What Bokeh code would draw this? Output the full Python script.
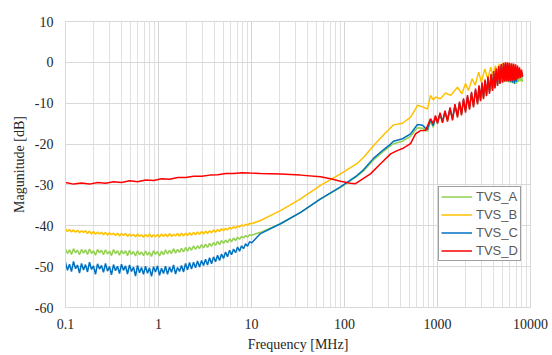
from bokeh.plotting import figure
from bokeh.models import FixedTicker, CustomJSTickFormatter, Range1d
from bokeh.embed import file_html
from bokeh.resources import INLINE

# ---------------- data ----------------
series_names = ["TVS_A", "TVS_B", "TVS_C", "TVS_D"]
x_tick_labels = ["0.1", "1", "10", "100", "1000", "10000"]
y_tick_labels = ["-60", "-50", "-40", "-30", "-20", "-10", "0", "10"]

# low-frequency noisy region (MHz)
f_low = [0.1, 0.1051, 0.1104, 0.1160, 0.1219, 0.1281, 0.1346, 0.1414, 0.1486, 0.1562,
         0.1641, 0.1724, 0.1812, 0.1904, 0.2000, 0.2102, 0.2209, 0.2321, 0.2438, 0.2562,
         0.2692, 0.2829, 0.2973, 0.3123, 0.3282, 0.3449, 0.3624, 0.3808, 0.4001, 0.4204,
         0.4418, 0.4642, 0.4878, 0.5126, 0.5386, 0.5660, 0.5947, 0.6249, 0.6567, 0.6900,
         0.7251, 0.7619, 0.8006, 0.8413, 0.8840, 0.9289, 0.9761, 1.026, 1.078, 1.132,
         1.190, 1.250, 1.314, 1.380, 1.451, 1.524, 1.602, 1.683, 1.768, 1.858,
         1.953, 2.052, 2.156, 2.265, 2.380, 2.501, 2.628, 2.762, 2.902, 3.049,
         3.204, 3.367, 3.538, 3.718, 3.907, 4.105, 4.314, 4.533, 4.763, 5.005,
         5.259, 5.526, 5.807, 6.102, 6.412, 6.738, 7.080, 7.440, 7.818, 8.215,
         8.632, 9.071, 9.531, 10.02]
f_low_D = [0.100, 0.122, 0.149, 0.181, 0.221, 0.270, 0.329, 0.401, 0.489, 0.596,
           0.727, 0.886, 1.08, 1.32, 1.61, 1.96, 2.39, 2.92, 3.56, 4.34,
           5.29, 6.45, 7.87, 9.59]

db_low_A = [-45.7, -46.8, -45.9, -47.0, -45.6, -46.6, -46.0, -47.1, -45.8, -46.7,
            -45.9, -47.0, -45.7, -46.8, -46.1, -47.2, -45.8, -46.6, -46.0, -47.1,
            -45.9, -46.9, -46.2, -47.3, -45.8, -46.8, -46.1, -47.2, -46.0, -46.9,
            -46.1, -47.3, -46.0, -47.0, -46.3, -47.4, -46.1, -47.1, -46.4, -47.3,
            -46.2, -47.2, -46.4, -47.5, -46.1, -47.0, -46.3, -47.4, -46.2, -47.1,
            -45.9, -46.9, -46.0, -46.8, -45.6, -46.7, -45.8, -46.5, -45.5, -46.4,
            -45.3, -46.2, -45.2, -46.0, -44.9, -45.8, -44.9, -45.6, -44.6, -45.4,
            -44.5, -45.3, -44.3, -45.0, -44.1, -44.8, -43.8, -44.6, -43.6, -44.3,
            -43.5, -44.1, -43.2, -43.9, -43.0, -43.6, -42.8, -43.3, -42.6, -43.0,
            -42.4, -42.8, -42.2, -42.3]
db_low_B = [-40.7, -41.4, -40.9, -41.5, -41.0, -41.6, -41.1, -41.7, -41.2, -41.6,
            -41.2, -41.9, -41.3, -42.0, -41.4, -42.1, -41.5, -42.0, -41.6, -42.2,
            -41.6, -42.3, -41.7, -42.2, -41.8, -42.4, -41.8, -42.5, -41.9, -42.4,
            -41.9, -42.6, -42.0, -42.5, -42.1, -42.7, -42.0, -42.6, -42.2, -42.8,
            -42.1, -42.7, -42.0, -42.8, -42.2, -42.7, -42.1, -42.8, -42.0, -42.6,
            -42.0, -42.7, -41.9, -42.6, -42.1, -42.5, -41.9, -42.6, -41.8, -42.5,
            -41.8, -42.4, -41.7, -42.3, -41.6, -42.2, -41.5, -42.1, -41.4, -42.0,
            -41.3, -41.9, -41.2, -41.7, -41.0, -41.6, -40.9, -41.4, -40.7, -41.2,
            -40.6, -41.0, -40.4, -40.8, -40.2, -40.6, -40.0, -40.3, -39.8, -40.1,
            -39.6, -39.9, -39.4, -39.5]
db_low_C = [-49.0, -50.9, -49.4, -51.2, -48.7, -50.5, -49.6, -51.6, -49.2, -50.8,
            -49.5, -51.3, -48.9, -50.7, -49.8, -51.9, -49.3, -50.6, -49.7, -51.4,
            -49.2, -51.1, -50.0, -52.0, -49.5, -51.0, -49.9, -51.7, -49.4, -50.9,
            -49.8, -51.8, -49.6, -51.2, -50.1, -52.3, -49.7, -51.5, -50.2, -51.9,
            -49.9, -51.6, -50.3, -52.4, -50.0, -51.3, -49.8, -52.1, -50.4, -51.7,
            -49.9, -51.9, -50.1, -51.4, -49.6, -51.8, -50.2, -51.2, -49.7, -51.3,
            -49.2, -50.8, -49.0, -50.6, -48.9, -50.3, -48.6, -50.1, -48.5, -49.7,
            -48.2, -49.6, -47.8, -49.3, -47.6, -48.8, -47.2, -48.5, -46.9, -48.0,
            -46.4, -47.6, -46.0, -47.1, -45.7, -46.6, -45.2, -46.2, -44.9, -45.6,
            -44.4, -45.0, -43.9, -44.2]
db_low_D = [-29.4, -29.8, -29.5, -29.8, -29.4, -29.6, -29.2, -29.4, -29.0, -29.2,
            -28.8, -28.9, -28.5, -28.6, -28.2, -28.2, -27.9, -27.9, -27.6, -27.5,
            -27.2, -27.2, -27.0, -27.1]

# mid-frequency region
f_mid_A = [12.5, 20.5, 33.7, 55.2, 90.6, 136, 160, 205, 262, 313, 336, 421, 513, 560, 610, 690, 740, 780, 841, 900]
db_mid_A = [-41.6, -39.5, -36.8, -33.5, -30.6, -27.9, -26.6, -23.9, -21.8, -20.4, -19.9, -19.3, -18.1, -17.0, -16.0, -16.1, -16.6, -16.8, -14.4, -15.9]
f_mid_B = [12.5, 20.5, 33.7, 55.2, 90.6, 136, 160, 205, 262, 313, 336, 421, 513, 560, 610, 690, 780, 841, 900]
db_mid_B = [-38.7, -36.3, -33.4, -30.1, -27.3, -24.8, -23.3, -20.4, -17.8, -16.0, -15.3, -14.9, -13.4, -12.0, -10.5, -10.9, -11.4, -8.1, -9.2]
f_mid_C = [12.5, 20.5, 33.7, 55.2, 90.6, 136, 160, 205, 262, 313, 336, 421, 513, 560, 610, 690, 740, 780, 841, 900]
db_mid_C = [-41.9, -39.5, -36.7, -33.4, -30.5, -27.7, -26.3, -23.5, -21.4, -20.0, -19.3, -18.7, -17.5, -16.3, -15.2, -15.4, -16.1, -16.5, -14.0, -15.5]
f_mid_D = [12.5, 20.5, 33.7, 55.2, 70.7, 90.6, 116, 131, 150, 190, 244, 313, 369, 421, 513, 580, 656, 743, 841, 900]
db_mid_D = [-27.2, -27.3, -27.6, -28.0, -28.5, -29.1, -29.6, -29.7, -28.8, -27.3, -24.8, -22.4, -21.6, -21.1, -19.9, -17.5, -16.7, -16.7, -13.8, -15.0]

# high-frequency resonance ripple
f_rip = [951, 1000, 1064, 1132, 1204, 1281, 1363, 1449, 1542, 1641,
         1724, 1812, 1904, 2000, 2102, 2209, 2321, 2438, 2563, 2692,
         2795, 2900, 3009, 3123, 3242, 3365, 3491, 3624, 3761, 3903,
         4020, 4152, 4278, 4418, 4551, 4699, 4841, 5000, 5126, 5254,
         5385, 5520, 5658, 5800, 5945, 6094, 6247, 6404, 6565, 6730,
         6899, 7072, 7249, 7430, 7614, 7805, 8000, 8204]
db_rip_A = [-13.6, -14.9, -12.9, -14.6, -12.4, -14.2, -11.6, -13.9, -10.9, -13.2,
            -10.3, -12.7, -9.5, -12.0, -8.7, -11.3, -7.9, -10.7, -7.1, -10.0,
            -6.3, -9.2, -5.6, -8.7, -4.9, -8.0, -4.2, -7.4, -3.5, -6.7,
            -2.8, -6.2, -2.2, -5.6, -1.6, -5.2, -1.1, -5.0, -0.8, -4.8,
            -0.7, -4.8, -0.7, -4.9, -0.8, -5.0, -1.0, -5.1, -1.3, -5.3,
            -1.7, -5.2, -2.0, -4.8, -2.6, -4.6, -3.2, -4.8]
db_rip_C = [-13.3, -14.6, -12.6, -14.4, -12.1, -14.0, -11.3, -13.7, -10.6, -13.0,
            -10.0, -12.5, -9.2, -11.8, -8.4, -11.1, -7.6, -10.5, -6.8, -9.8,
            -6.0, -9.0, -5.3, -8.5, -4.6, -7.8, -3.9, -7.2, -3.2, -6.5,
            -2.5, -6.0, -1.9, -5.4, -1.3, -5.0, -0.8, -4.8, -0.5, -4.6,
            -0.4, -4.6, -0.4, -4.7, -0.5, -4.8, -0.7, -5.0, -1.0, -5.2,
            -1.4, -4.8, -1.6, -3.8, -2.0, -3.0, -2.4, -3.6]
db_rip_D = [-13.0, -15.0, -12.3, -14.8, -11.8, -14.5, -11.0, -14.2, -10.2, -13.5,
            -9.6, -13.0, -8.8, -12.3, -8.0, -11.6, -7.2, -11.0, -6.4, -10.3,
            -5.6, -9.5, -4.9, -9.0, -4.2, -8.3, -3.5, -7.7, -2.8, -7.0,
            -2.1, -6.4, -1.5, -5.8, -0.9, -5.3, -0.4, -5.0, -0.1, -4.7,
            0.0, -4.6, 0.0, -4.6, -0.1, -4.6, -0.2, -4.5, -0.3, -4.4,
            -0.5, -4.2, -0.8, -4.0, -1.2, -3.8, -1.8, -3.5]
f_rip_B = [951, 1077, 1220, 1380, 1640, 1830, 2000, 2150, 2360, 2540,
           2770, 2960, 3230, 3470, 3740, 3950, 4200, 4400, 4600, 4800,
           5000, 5200, 5400, 5650, 5900, 6150, 6400, 6650, 6900, 7150,
           7400, 7700, 8000, 8200]
db_rip_B = [-8.5, -8.9, -7.5, -8.1, -6.1, -7.7, -5.2, -6.9, -4.0, -5.6,
            -2.4, -4.8, -1.6, -4.0, -1.2, -3.4, -0.8, -3.0, -0.4, -3.2,
            -0.2, -3.5, -0.1, -3.8, -0.2, -4.2, -0.6, -4.8, -1.2, -4.5,
            -1.8, -3.8, -2.4, -3.3]

freq_A = f_low + f_mid_A + f_rip
db_A = db_low_A + db_mid_A + db_rip_A
freq_B = f_low + f_mid_B + f_rip_B
db_B = db_low_B + db_mid_B + db_rip_B
freq_C = f_low + f_mid_C + f_rip
db_C = db_low_C + db_mid_C + db_rip_C
freq_D = f_low_D + f_mid_D + f_rip
db_D = db_low_D + db_mid_D + db_rip_D

colors = ["#92D050", "#FFC000", "#0070C0", "#FF0000"]

# ---------------- figure ----------------
p = figure(width=552, height=355, x_axis_type="log",
           x_range=Range1d(0.1, 10000), y_range=Range1d(-60, 10),
           output_backend="svg", toolbar_location=None,
           min_border_left=65, min_border_right=22, min_border_top=21, min_border_bottom=48)

for name, fx, fy, c in zip(series_names, [freq_A, freq_B, freq_C, freq_D],
                           [db_A, db_B, db_C, db_D], colors):
    p.line(fx, fy, line_color=c, line_width=1.5, legend_label=name)

x_ticks = [float(t) for t in x_tick_labels]
x_minor = [m * t for t in x_ticks[:-1] for m in range(2, 10)]
p.xaxis.ticker = FixedTicker(ticks=x_ticks, minor_ticks=x_minor)
p.yaxis.ticker = FixedTicker(ticks=[float(t) for t in y_tick_labels])
p.xaxis.formatter = CustomJSTickFormatter(code="return String(tick);")
p.yaxis.formatter = CustomJSTickFormatter(code="return String(tick);")

p.xaxis.axis_label = "Frequency [MHz]"
p.yaxis.axis_label = "Magunitude [dB]"

serif = "'Liberation Serif', 'Times New Roman', serif"
for ax in (p.xaxis[0], p.yaxis[0]):
    ax.axis_line_color = "#d9d9d9"
    ax.major_tick_line_color = None
    ax.minor_tick_line_color = None
    ax.major_tick_out = 0
    ax.major_tick_in = 0
    ax.minor_tick_out = 0
    ax.minor_tick_in = 0
    ax.major_label_text_font = serif
    ax.major_label_text_font_size = "14px"
    ax.major_label_text_color = "#262626"
    ax.axis_label_text_font = serif
    ax.axis_label_text_font_size = "14px"
    ax.axis_label_text_font_style = "normal"
    ax.axis_label_text_color = "#262626"

p.xaxis.major_label_standoff = 11
p.xaxis.axis_label_standoff = 5
p.yaxis.major_label_standoff = 12
p.yaxis.axis_label_standoff = 5

p.xgrid.grid_line_color = "#d4d4d4"
p.xgrid.minor_grid_line_color = "#e0e0e0"
p.ygrid.grid_line_color = "#d9d9d9"
p.outline_line_color = "#d9d9d9"

lg = p.legend[0]
lg.location = (373, 46)
lg.border_line_color = "#404040"
lg.border_line_width = 1
lg.background_fill_color = "white"
lg.background_fill_alpha = 1
lg.label_text_font = "Liberation Sans"
lg.label_text_font_size = "13px"
lg.label_text_color = "#595959"
lg.padding = 2
lg.spacing = 3
lg.margin = 0
lg.label_height = 15
lg.glyph_height = 15
lg.glyph_width = 31
lg.label_standoff = 4

open("out.html", "w").write(file_html(p, INLINE))
